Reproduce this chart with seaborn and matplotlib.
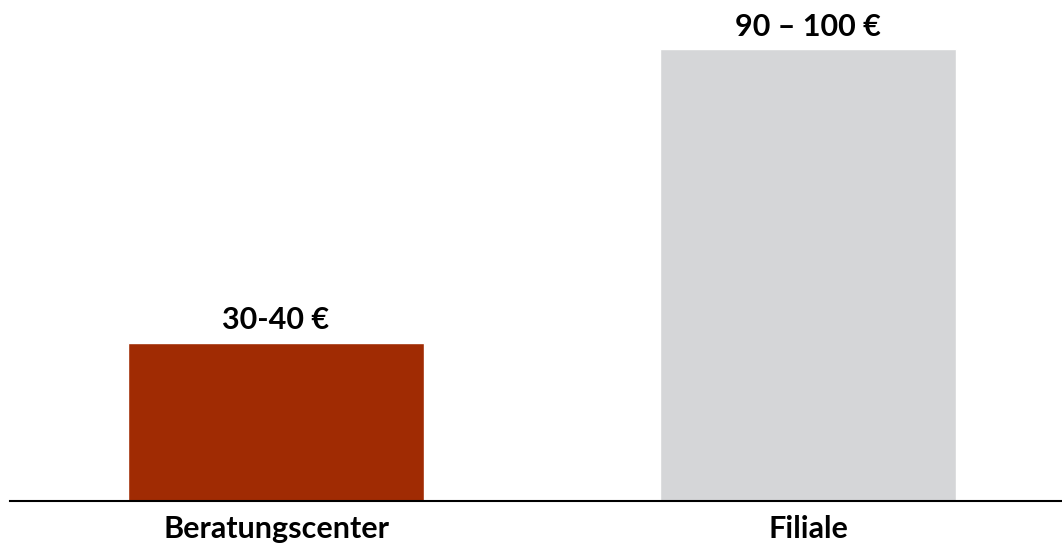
import matplotlib
matplotlib.use("Agg")
import matplotlib.pyplot as plt
import seaborn as sns
import pandas as pd

# data
categories = ["Beratungscenter", "Filiale"]
values = [35, 100]
value_labels = ["30-40 €", "90 – 100 €"]
bar_colors = ["#A02B03", "#D5D6D8"]

sns.set_style("white")
plt.rcParams['font.family'] = ['Lato', 'DejaVu Sans']
plt.rcParams['text.color'] = 'black'
plt.rcParams['xtick.color'] = 'black'

df = pd.DataFrame({"kanal": categories, "kosten": values})

fig = plt.figure(figsize=(10.62, 5.46), dpi=100)
ax = fig.add_axes([10 / 1062, 45 / 546, 1052 / 1062, 501 / 546])

sns.barplot(data=df, x="kanal", y="kosten", hue="kanal", palette=bar_colors,
            width=0.556, legend=False, ax=ax, saturation=1)

for container, lab in zip(ax.containers, value_labels):
    ax.bar_label(container, labels=[lab], padding=6, fontsize=22,
                 fontweight="bold", color="black")

ax.set_xlim(-0.5, 1.477)
ax.set_ylim(0, 110.8)
ax.set_xlabel("")
ax.set_ylabel("")
ax.set_yticks([])
ax.tick_params(axis="x", length=0, pad=10, labelsize=22, labelcolor="black")
for t in ax.get_xticklabels():
    t.set_fontweight("bold")

for side in ["top", "right", "left"]:
    ax.spines[side].set_visible(False)
ax.spines["bottom"].set_color("black")
ax.spines["bottom"].set_linewidth(1.5)

fig.savefig("out.png", dpi=100)
